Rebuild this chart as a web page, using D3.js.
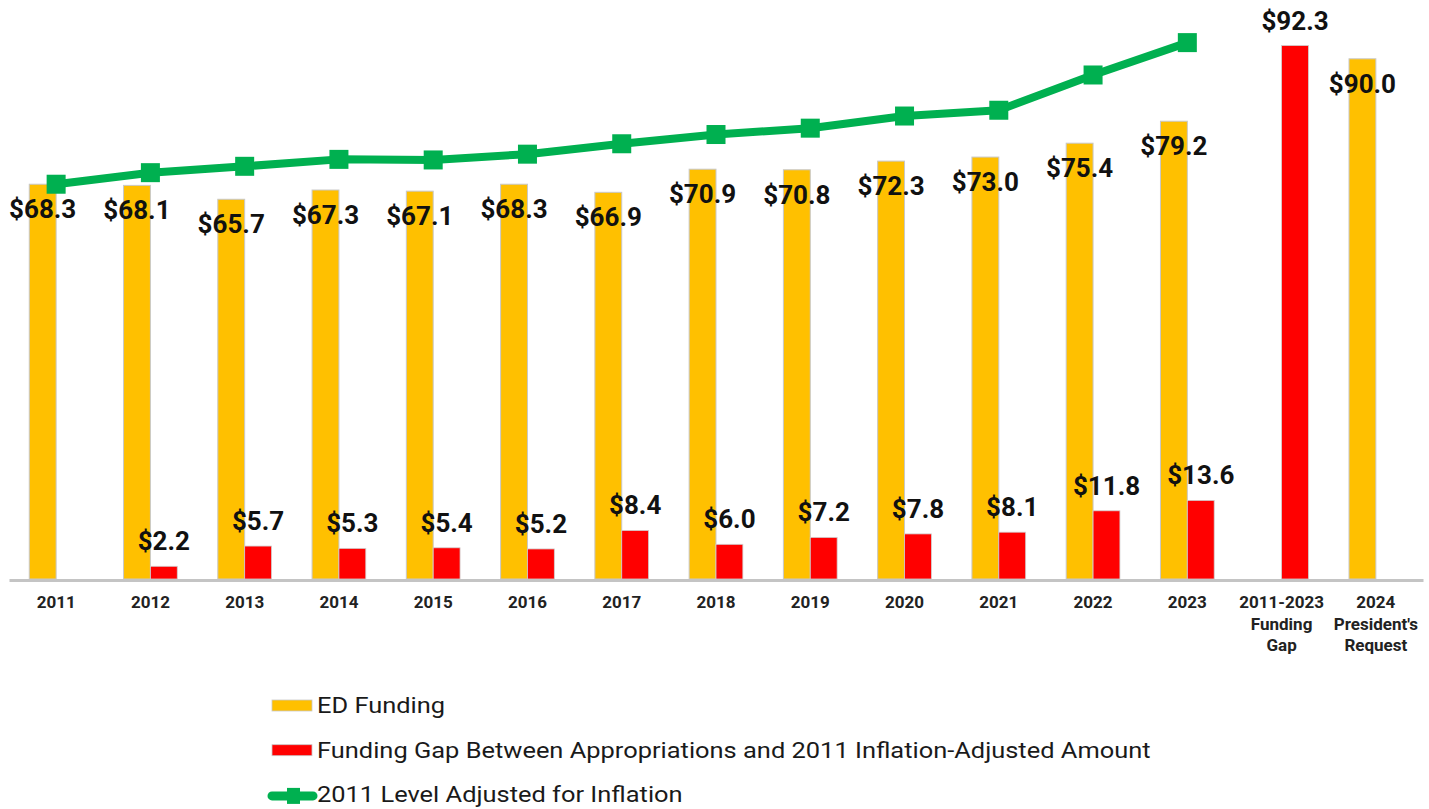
<!DOCTYPE html>
<html>
<head>
<meta charset="utf-8">
<script src="https://cdn.jsdelivr.net/npm/d3@7"></script>
<style>
  body { margin: 0; background: #fff; }
  svg { display: block; font-family: Roboto, "Noto Sans", sans-serif; }
</style>
</head>
<body>
<script>
// categories along the x axis
const categories = ["2011", "2012", "2013", "2014", "2015", "2016", "2017", "2018", "2019", "2020", "2021", "2022", "2023", "2011-2023\nFunding\nGap", "2024\nPresident's\nRequest"];
// ED Funding (billions)
const edFunding = [68.3, 68.1, 65.7, 67.3, 67.1, 68.3, 66.9, 70.9, 70.8, 72.3, 73.0, 75.4, 79.2, null, 90.0];
// Funding gap (billions)
const fundingGap = [null, 2.2, 5.7, 5.3, 5.4, 5.2, 8.4, 6.0, 7.2, 7.8, 8.1, 11.8, 13.6, 92.3, null];
// 2011 level adjusted for inflation
const inflationLevel = [68.3, 70.3, 71.4, 72.6, 72.5, 73.5, 75.3, 76.9, 78.0, 80.1, 81.1, 87.2, 92.8, null, null];

const legendLabels = ["ED Funding", "Funding Gap Between Appropriations and 2011 Inflation-Adjusted Amount", "2011 Level Adjusted for Inflation"];

const width = 1429, height = 809;
const yellow = "#ffc000", red = "#ff0000", green = "#00b050";

const svg = d3.select("body").append("svg")
  .attr("width", width)
  .attr("height", height);

const x = d3.scaleBand()
  .domain(categories)
  .range([9, 1423])
  .padding(0);

const y = d3.scaleLinear()
  .domain([0, 100])
  .range([579, 1]);

const barW = x.bandwidth() * 0.285;
const cx = (c) => x(c) + x.bandwidth() / 2;

// yellow bars
svg.append("g").selectAll("rect")
  .data(categories.filter((c, i) => edFunding[i] != null))
  .enter().append("rect")
  .attr("x", (c) => cx(c) - barW)
  .attr("y", (c) => y(edFunding[categories.indexOf(c)]))
  .attr("width", barW)
  .attr("height", (c) => y(0) - y(edFunding[categories.indexOf(c)]))
  .attr("fill", yellow)
  .attr("stroke", "#c8c8c8")
  .attr("stroke-width", 1);

// red bars
svg.append("g").selectAll("rect")
  .data(categories.filter((c, i) => fundingGap[i] != null))
  .enter().append("rect")
  .attr("x", (c) => cx(c))
  .attr("y", (c) => y(fundingGap[categories.indexOf(c)]))
  .attr("width", barW)
  .attr("height", (c) => y(0) - y(fundingGap[categories.indexOf(c)]))
  .attr("fill", red)
  .attr("stroke", "#d0d0d0")
  .attr("stroke-width", 0.8);

// x axis
const xAxis = svg.append("g")
  .attr("transform", `translate(0, ${y(0) + 1})`)
  .call(d3.axisBottom(x).tickSize(0).tickFormat(""));
xAxis.select(".domain").attr("stroke", "#c4c4c4").attr("stroke-width", 3);

const tickText = svg.append("g").selectAll("text")
  .data(categories)
  .enter().append("text")
  .attr("x", cx)
  .attr("y", 608)
  .attr("text-anchor", "middle")
  .attr("font-size", 17)
  .attr("font-weight", "bold")
  .attr("fill", "#222");
tickText.each(function(c) {
  const lines = c.split("\n");
  d3.select(this).selectAll("tspan")
    .data(lines)
    .enter().append("tspan")
    .attr("x", cx(c))
    .attr("dy", (d, i) => i === 0 ? 0 : 21.5)
    .text((d) => d);
});

// green line
const lineData = categories.map((c, i) => ({ c, v: inflationLevel[i] })).filter((d) => d.v != null);
svg.append("path")
  .datum(lineData)
  .attr("fill", "none")
  .attr("stroke", green)
  .attr("stroke-width", 8)
  .attr("stroke-linejoin", "round")
  .attr("d", d3.line().x((d) => cx(d.c)).y((d) => y(d.v)));

svg.append("g").selectAll("rect")
  .data(lineData)
  .enter().append("rect")
  .attr("x", (d) => cx(d.c) - 9.5)
  .attr("y", (d) => y(d.v) - 9.5)
  .attr("width", 19)
  .attr("height", 19)
  .attr("fill", green);

// value labels
const labelStyle = (sel) => sel
  .attr("text-anchor", "middle")
  .attr("dominant-baseline", "central")
  .attr("font-size", 26)
  .attr("font-weight", "bold")
  .attr("fill", "#111");

svg.append("g").selectAll("text")
  .data(categories.filter((c, i) => edFunding[i] != null))
  .enter().append("text")
  .attr("x", (c) => cx(c) - barW / 2)
  .attr("y", (c) => y(edFunding[categories.indexOf(c)]) + 25)
  .call(labelStyle)
  .text((c) => "$" + edFunding[categories.indexOf(c)].toFixed(1));

svg.append("g").selectAll("text")
  .data(categories.filter((c, i) => fundingGap[i] != null))
  .enter().append("text")
  .attr("x", (c) => cx(c) + barW / 2)
  .attr("y", (c) => y(fundingGap[categories.indexOf(c)]) - 25)
  .call(labelStyle)
  .text((c) => "$" + fundingGap[categories.indexOf(c)].toFixed(1));

// legend
const legend = svg.append("g").attr("transform", "translate(272, 705.5)");
legendLabels.forEach((t, i) => {
  const g = legend.append("g").attr("transform", `translate(0, ${i * 44.7})`);
  if (i < 2) {
    g.append("rect")
      .attr("x", 0).attr("y", -5.5)
      .attr("width", 40).attr("height", 11)
      .attr("fill", i === 0 ? yellow : red)
      .attr("stroke", "#c8c8c8").attr("stroke-width", 0.8);
  } else {
    g.append("line")
      .attr("x1", 0).attr("x2", 41).attr("y1", 1).attr("y2", 1)
      .attr("stroke", green).attr("stroke-width", 9).attr("stroke-linecap", "round");
    g.append("rect")
      .attr("x", 15).attr("y", -7).attr("width", 13).attr("height", 16)
      .attr("fill", green);
  }
  g.append("text")
    .attr("transform", "translate(45, 0) scale(1.13, 1)")
    .attr("dominant-baseline", "central")
    .attr("font-size", 22.5)
    .attr("fill", "#1a1a1a")
    .text(t);
});
</script>
</body>
</html>
